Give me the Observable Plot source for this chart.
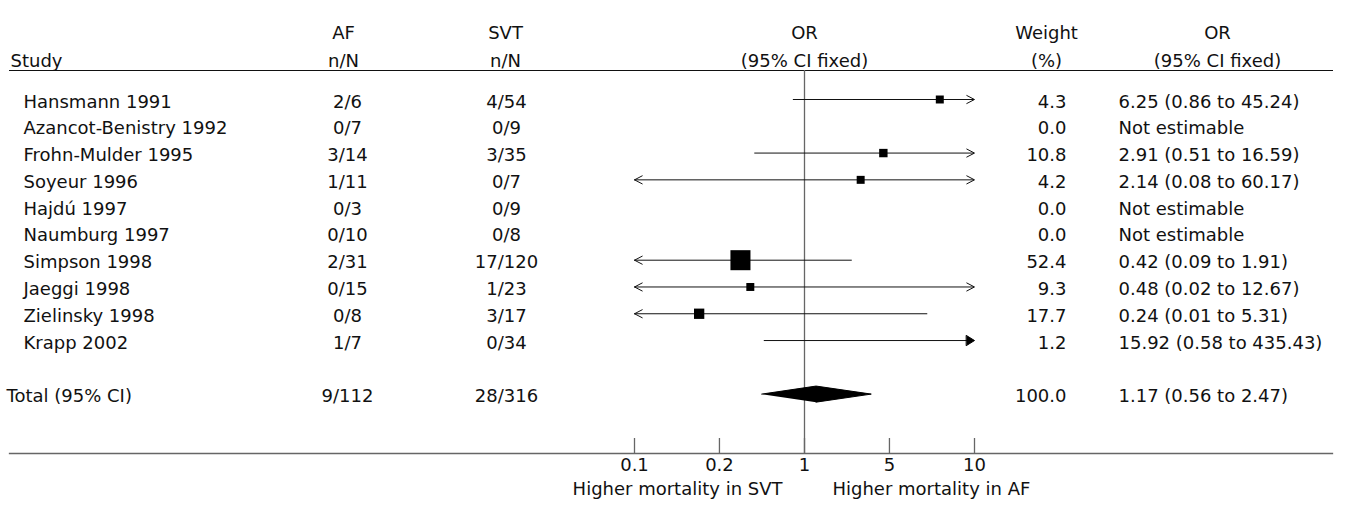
<!DOCTYPE html>
<html><head><meta charset="utf-8">
<script src="https://cdn.jsdelivr.net/npm/d3@7"></script>
<script src="https://cdn.jsdelivr.net/npm/@observablehq/plot@0.6"></script>
<style>
body{margin:0;background:#fff}
#chart{width:1348px;height:510px}
</style>
</head><body><div id="chart"></div>
<script>
// ---- data ----
const studies = ["Hansmann 1991", "Azancot-Benistry 1992", "Frohn-Mulder 1995", "Soyeur 1996", "Hajdú 1997", "Naumburg 1997", "Simpson 1998", "Jaeggi 1998", "Zielinsky 1998", "Krapp 2002"];
const afCounts = ["2/6", "0/7", "3/14", "1/11", "0/3", "0/10", "2/31", "0/15", "0/8", "1/7"];
const svtCounts = ["4/54", "0/9", "3/35", "0/7", "0/9", "0/8", "17/120", "1/23", "3/17", "0/34"];
const weights = [4.3, 0.0, 10.8, 4.2, 0.0, 0.0, 52.4, 9.3, 17.7, 1.2];
const oddsRatios = [6.25, null, 2.91, 2.14, null, null, 0.42, 0.48, 0.24, 15.92];
const lowerCI = [0.86, null, 0.51, 0.08, null, null, 0.09, 0.02, 0.01, 0.58];
const upperCI = [45.24, null, 16.59, 60.17, null, null, 1.91, 12.67, 5.31, 435.43];

const totalLabel = "Total (95% CI)";
const totalAF = "9/112";
const totalSVT = "28/316";
const totalWeight = 100.0;
const totalOR = 1.17;
const totalLower = 0.56;
const totalUpper = 2.47;

const headerStudy = ["", "Study"];
const headerAF = ["AF", "n/N"];
const headerSVT = ["SVT", "n/N"];
const headerOR = ["OR", "(95% CI fixed)"];
const headerWeight = ["Weight", "(%)"];
const headerORText = ["OR", "(95% CI fixed)"];

const tickPositions = [0.1, 0.316, 1, 3.16, 10];
const tickLabels = ["0.1", "0.2", "1", "5", "10"];
const leftNote = "Higher mortality in SVT";
const rightNote = "Higher mortality in AF";

// ---- derived table ----
const rows = studies.map((s, i) => ({idx: i, study: s, af: afCounts[i], svt: svtCounts[i], weight: weights[i], or: oddsRatios[i], lo: lowerCI[i], hi: upperCI[i]}));
const total = {idx: studies.length + 1, study: totalLabel, af: totalAF, svt: totalSVT, weight: totalWeight, or: totalOR, lo: totalLower, hi: totalUpper};
const table = [...rows, total];

const xMin = 0.1, xMax = 10;
const clampX = v => Math.max(xMin, Math.min(xMax, v));
const est = rows.filter(d => d.or != null);
const inRange = est.filter(d => d.or >= xMin && d.or <= xMax);
const leftArrows = est.filter(d => d.lo < xMin);
const rightOpen = est.filter(d => d.hi > xMax && d.or <= xMax);
const rightFilled = est.filter(d => d.hi > xMax && d.or > xMax);
const fmtOR = d => d.or == null ? "Not estimable" : `${d.or.toFixed(2)} (${d.lo.toFixed(2)} to ${d.hi.toFixed(2)})`;

const diamondHalf = 0.3;
const diamond = [
  {x: total.lo, y: total.idx},
  {x: total.or, y: total.idx - diamondHalf},
  {x: total.hi, y: total.idx},
  {x: total.or, y: total.idx + diamondHalf}
];

const chevron = {draw(ctx) { ctx.moveTo(-4, 7.7); ctx.lineTo(0, 0); ctx.lineTo(4, 7.7); }};
const triangle = {draw(ctx) { ctx.moveTo(-5, 8); ctx.lineTo(0, 0); ctx.lineTo(5, 8); ctx.closePath(); }};

const W = 1348, H = 510, mT = 70, mB = 57, mL = 9, mR = 16;
const frameH = H - mT - mB;
const hdr = {frameAnchor: "top-left", lineAnchor: "top", lineHeight: 1.556, dy: -51.8, fill: "#111"};
const txt = {y: "idx", frameAnchor: "left", dy: 2.3, fill: "#111"};

const chart = Plot.plot({
  width: W, height: H,
  marginTop: mT, marginBottom: mB, marginLeft: mL, marginRight: mR,
  style: {fontFamily: "DejaVu Sans", fontSize: "18px", background: "#fff", color: "#111"},
  x: {type: "log", domain: [xMin, xMax], range: [634, 974], axis: null},
  y: {type: "linear", domain: [0, total.idx], range: [99, 393.6], axis: null},
  r: {type: "linear", domain: [9.3, 52.4], range: [4.5, 11.3], clamp: true},
  marks: [
    Plot.frame({anchor: "top", stroke: "#111"}),
    Plot.frame({anchor: "bottom", stroke: "#666", strokeWidth: 1.3}),
    Plot.ruleX([1], {stroke: "#666", strokeWidth: 1.3}),
    Plot.ruleX(tickPositions, {x: d => d, insetTop: frameH - 15, stroke: "#666", strokeWidth: 1.3}),
    // CI lines
    Plot.ruleY(est, {y: "idx", x1: d => clampX(d.lo), x2: d => clampX(d.hi), stroke: "#111", strokeWidth: 1}),
    Plot.vector(leftArrows, {x: () => xMin, y: "idx", length: 8, rotate: -90, anchor: "start", shape: chevron, stroke: "#111", strokeWidth: 1}),
    Plot.vector(rightOpen, {x: () => xMax, y: "idx", length: 8, rotate: 90, anchor: "start", shape: chevron, stroke: "#111", strokeWidth: 1}),
    Plot.vector(rightFilled, {x: () => xMax, y: "idx", length: 8, rotate: 90, anchor: "start", shape: triangle, stroke: "#000", fill: "#000", strokeWidth: 1}),
    Plot.dot(inRange, {x: "or", y: "idx", r: "weight", symbol: "square", fill: "#000", stroke: "none"}),
    Plot.line(diamond, {x: "x", y: "y", fill: "#000", stroke: "#000", strokeWidth: 1}),
    // headers
    Plot.text([headerStudy.join("\n")], {...hdr, text: d => d, textAnchor: "start", dx: 1}),
    Plot.text([headerAF.join("\n")], {...hdr, text: d => d, textAnchor: "middle", dx: 334}),
    Plot.text([headerSVT.join("\n")], {...hdr, text: d => d, textAnchor: "middle", dx: 496}),
    Plot.text([headerOR.join("\n")], {...hdr, text: d => d, textAnchor: "middle", dx: 795}),
    Plot.text([headerWeight.join("\n")], {...hdr, text: d => d, textAnchor: "middle", dx: 1037}),
    Plot.text([headerORText.join("\n")], {...hdr, text: d => d, textAnchor: "middle", dx: 1208}),
    // row texts
    Plot.text(rows, {...txt, text: "study", textAnchor: "start", dx: 14}),
    Plot.text([total], {...txt, text: "study", textAnchor: "start", dx: -3}),
    Plot.text(table, {...txt, text: "af", textAnchor: "middle", dx: 338}),
    Plot.text(table, {...txt, text: "svt", textAnchor: "middle", dx: 497}),
    Plot.text(table, {...txt, text: d => d.weight.toFixed(1), textAnchor: "end", dx: 1057}),
    Plot.text(table, {...txt, text: fmtOR, textAnchor: "start", dx: 1109}),
    // axis labels
    Plot.text(tickPositions, {x: d => d, text: (d, i) => tickLabels[i], frameAnchor: "bottom", dy: 17, fill: "#111"}),
    Plot.text([1], {x: d => d, text: () => leftNote, frameAnchor: "bottom", textAnchor: "end", dx: -22, dy: 41, fill: "#111"}),
    Plot.text([1], {x: d => d, text: () => rightNote, frameAnchor: "bottom", textAnchor: "start", dx: 28, dy: 41, fill: "#111"})
  ]
});
document.getElementById("chart").append(chart);
</script>
</body></html>
